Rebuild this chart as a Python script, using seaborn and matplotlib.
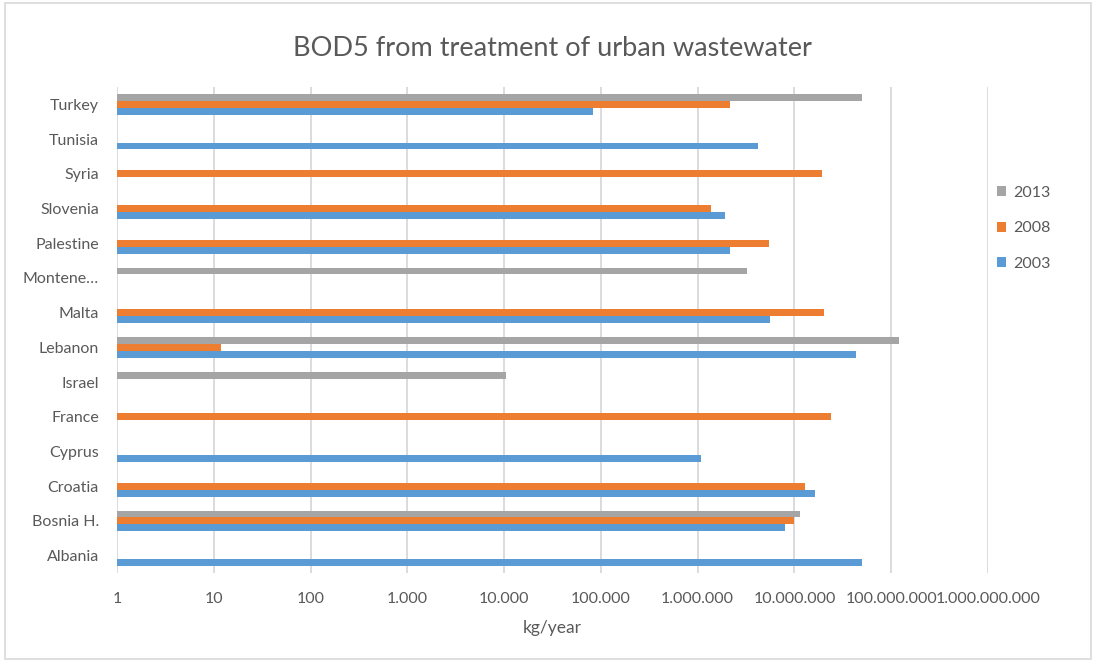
import numpy as np
import pandas as pd
import matplotlib
matplotlib.use("Agg")
import matplotlib.pyplot as plt
import seaborn as sns
from matplotlib.patches import Rectangle
from matplotlib.ticker import FixedLocator, FixedFormatter, NullLocator

countries = ["Turkey", "Tunisia", "Syria", "Slovenia", "Palestine", "Montene\u2026",
             "Malta", "Lebanon", "Israel", "France", "Cyprus", "Croatia",
             "Bosnia H.", "Albania"]
nan = np.nan
v2013 = [5.0e7, nan, nan, nan, nan, 3.2e6, nan, 1.19e8, 1.05e4, nan, nan, nan, 1.15e7, nan]
v2008 = [2.16e6, nan, 1.93e7, 1.38e6, 5.4e6, nan, 2.0e7, 11.9, nan, 2.36e7, nan, 1.28e7, 1.0e7, nan]
v2003 = [8.2e4, 4.2e6, nan, 1.9e6, 2.16e6, nan, 5.6e6, 4.35e7, nan, nan, 1.08e6, 1.63e7, 7.9e6, 5.0e7]
years = ["2013", "2008", "2003"]
tick_vals = [1, 10, 100, 1e3, 1e4, 1e5, 1e6, 1e7, 1e8, 1e9]
tick_labels = ["1", "10", "100", "1.000", "10.000", "100.000", "1.000.000",
               "10.000.000", "100.000.000", "1.000.000.000"]
colors = {"2013": "#A5A5A5", "2008": "#ED7D31", "2003": "#5B9BD5"}

rows = []
for yr, vals in zip(years, [v2013, v2008, v2003]):
    for c, v in zip(countries, vals):
        rows.append({"country": c, "year": yr, "value": v})
df = pd.DataFrame(rows)

sns.set_style("white")
plt.rcParams["font.family"] = ["Lato", "DejaVu Sans"]

fig = plt.figure(figsize=(10.96, 6.62), dpi=100)
ax = fig.add_axes([117 / 1096, 1 - 573 / 662, 871 / 1096, 486 / 662])
ax.set_xscale("log")
sns.barplot(data=df, y="country", x="value", hue="year", order=countries,
            hue_order=years, palette=colors, orient="h", width=0.6,
            saturation=1, errorbar=None, ax=ax, zorder=3, linewidth=0)
ax.set_xlim(1, 1e9)
ax.set_ylim(len(countries) - 0.5, -0.5)
ax.xaxis.set_major_locator(FixedLocator(tick_vals))
ax.xaxis.set_major_formatter(FixedFormatter(tick_labels))
ax.xaxis.set_minor_locator(NullLocator())
ax.grid(axis="x", color="#D9D9D9", linewidth=1.3, zorder=0)
ax.grid(axis="y", visible=False)
for s in ax.spines.values():
    s.set_visible(False)
ax.tick_params(axis="x", length=0, pad=14, labelsize=11.5, labelcolor="#595959")
ax.tick_params(axis="y", length=0, pad=13, labelsize=11.5, labelcolor="#595959")
ax.set_ylabel("")
ax.set_xlabel("kg/year", fontsize=12.5, color="#595959", labelpad=10)
ax.set_title("BOD5 from treatment of urban wastewater", fontsize=19.5,
             color="#595959", pad=22)

leg = ax.legend(loc="upper left", bbox_to_anchor=(1.010, 0.797), frameon=False,
                fontsize=11.5, handlelength=0.6, handleheight=0.6,
                labelspacing=1.35, handletextpad=0.45, borderpad=0,
                borderaxespad=0)
for t in leg.get_texts():
    t.set_color("#595959")

fig.patches.append(Rectangle((5 / 1096, 3 / 662), 1086 / 1096, 656 / 662,
                             transform=fig.transFigure, fill=False,
                             edgecolor="#D9D9D9", linewidth=1.2))
fig.savefig("out.png", dpi=100)
